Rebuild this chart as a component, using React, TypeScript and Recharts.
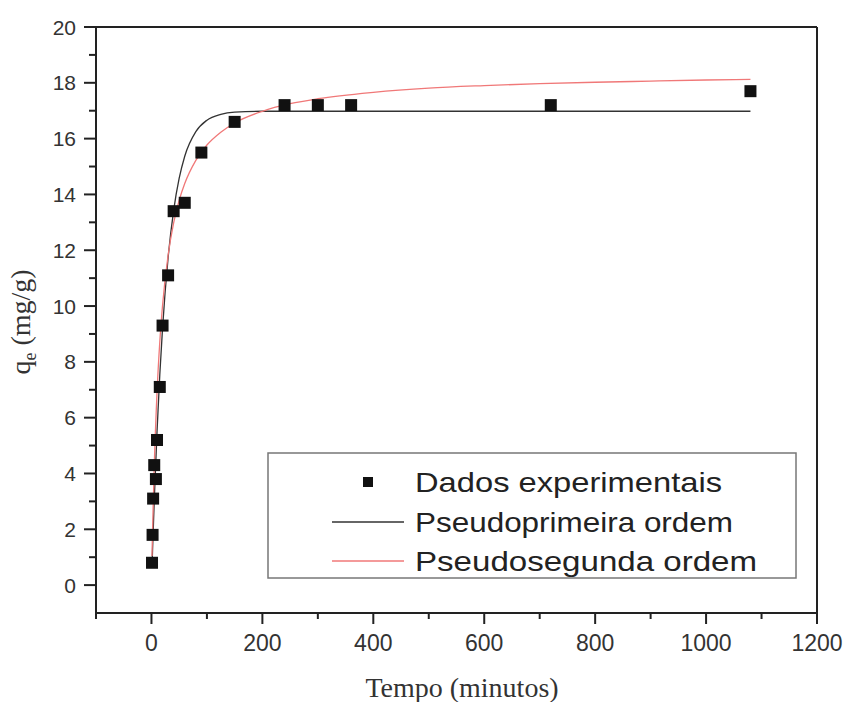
import React from 'react';
import { ComposedChart, Line, Scatter, XAxis, YAxis, ReferenceLine } from 'recharts';

// experimental points (time in minutes, q in mg/g)
const expTimes = [1, 2, 3, 5, 8, 10, 15, 20, 30, 40, 60, 90, 150, 240, 300, 360, 720, 1080];
const expQ = [0.8, 1.8, 3.1, 4.3, 3.8, 5.2, 7.1, 9.3, 11.1, 13.4, 13.7, 15.5, 16.6, 17.2, 17.2, 17.2, 17.2, 17.7];

// fitted curves
const fitTimes = [1, 2, 5, 10, 15, 20, 30, 40, 50, 60, 80, 100, 125, 150, 200, 250, 300, 400, 500, 600, 700, 800, 900, 1000, 1080];
const firstOrderQ = [0.65, 1.28, 3.01, 5.49, 7.53, 9.21, 11.73, 13.43, 14.58, 15.37, 16.25, 16.66, 16.87, 16.95, 16.98, 16.98, 16.98, 16.98, 16.98, 16.98, 16.98, 16.98, 16.98, 16.98, 16.98];
const secondOrderQ = [1.04, 1.97, 4.24, 6.89, 8.71, 10.03, 11.82, 12.98, 13.79, 14.39, 15.22, 15.77, 16.23, 16.56, 16.98, 17.25, 17.43, 17.66, 17.81, 17.9, 17.97, 18.02, 18.06, 18.1, 18.12];

const xTicks = [-100, 0, 100, 200, 300, 400, 500, 600, 700, 800, 900, 1000, 1100, 1200];
const yTicks = [0, 1, 2, 3, 4, 5, 6, 7, 8, 9, 10, 11, 12, 13, 14, 15, 16, 17, 18, 19, 20];
const legendLabels = ['Dados experimentais', 'Pseudoprimeira ordem', 'Pseudosegunda ordem'];

const expData = expTimes.map((t, i) => ({ t, q: expQ[i] }));
const firstData = fitTimes.map((t, i) => ({ t, q: firstOrderQ[i] }));
const secondData = fitTimes.map((t, i) => ({ t, q: secondOrderQ[i] }));

const AXIS = '#222';
const RED = '#f07878';
const SANS = '"Liberation Sans", Arial, sans-serif';
const SERIF = '"Liberation Serif", "Times New Roman", serif';

const XTick = (props: any) => {
  const { x, y, payload } = props;
  const v = payload.value;
  const major = v % 200 === 0;
  return (
    <g>
      <line x1={x} x2={x} y1={y} y2={y + (major ? 11 : 6)} stroke={AXIS} strokeWidth={2} />
      {major && (
        <text x={x} y={y + 30} textAnchor="middle" dominantBaseline="central"
          fontFamily={SANS} fontSize={23} fill="#333">{v}</text>
      )}
    </g>
  );
};

const YTick = (props: any) => {
  const { x, y, payload } = props;
  const v = payload.value;
  const major = v % 2 === 0;
  return (
    <g>
      <line x1={x - (major ? 12 : 7)} x2={x} y1={y} y2={y} stroke={AXIS} strokeWidth={2} />
      {major && (
        <text x={x - 20} y={y} textAnchor="end" dominantBaseline="central"
          fontFamily={SANS} fontSize={21} fill="#333">{v}</text>
      )}
    </g>
  );
};

const Square = (props: any) => (
  <rect x={props.cx - 6} y={props.cy - 6} width={12} height={12} fill="#111" />
);

const xTitle = () => (
  <text x={462} y={687} textAnchor="middle" dominantBaseline="central"
    fontFamily={SERIF} fontSize={28} fill="#333">Tempo (minutos)</text>
);

const yTitle = () => (
  <text transform="translate(30,322) rotate(-90)" textAnchor="middle"
    fontFamily={SERIF} fontSize={28} fill="#333">
    q<tspan fontSize={18} dy={6}>e</tspan><tspan dy={-6}> (mg/g)</tspan>
  </text>
);

function LegendBox() {
  const rows = [482, 522, 561];
  const ends = [722, 733, 757];
  return (
    <svg width={847} height={702} style={{ position: 'absolute', left: 0, top: 0, pointerEvents: 'none' }}>
      <rect x={268} y={453} width={528} height={125} fill="#fff" stroke="#777" strokeWidth={1.5} />
      <rect x={363} y={rows[0] - 5} width={10} height={10} fill="#111" />
      <line x1={332} x2={404} y1={rows[1]} y2={rows[1]} stroke="#333" strokeWidth={1.3} />
      <line x1={332} x2={404} y1={rows[2]} y2={rows[2]} stroke={RED} strokeWidth={1.3} />
      {legendLabels.map((label, i) => (
        <text key={label} x={415} y={rows[i]} dominantBaseline="central" fontFamily={SANS}
          fontSize={28} fill="#222" textLength={ends[i] - 415} lengthAdjust="spacingAndGlyphs">
          {label}
        </text>
      ))}
    </svg>
  );
}

export default function App() {
  return (
    <div style={{ position: 'absolute', left: 0, top: 0, width: 847, height: 702, background: '#fff' }}>
      <ComposedChart width={847} height={702} margin={{ top: 27, right: 30, left: 0, bottom: 0 }}>
        <XAxis
          type="number"
          dataKey="t"
          domain={[-100, 1200]}
          ticks={xTicks}
          interval={0}
          allowDataOverflow
          height={89}
          tickSize={0}
          tickMargin={0}
          tickLine={false}
          tick={<XTick />}
          axisLine={{ stroke: AXIS, strokeWidth: 2 }}
          label={{ content: xTitle }}
        />
        <YAxis
          type="number"
          dataKey="q"
          domain={[-1, 20]}
          ticks={yTicks}
          interval={0}
          allowDataOverflow
          width={96}
          tickSize={0}
          tickMargin={0}
          tickLine={false}
          tick={<YTick />}
          axisLine={{ stroke: AXIS, strokeWidth: 2 }}
          label={{ content: yTitle }}
        />
        <ReferenceLine y={20} stroke={AXIS} strokeWidth={2} />
        <ReferenceLine x={1200} stroke={AXIS} strokeWidth={2} />
        <Line data={firstData} dataKey="q" type="monotone" stroke="#333" strokeWidth={1.3}
          dot={false} isAnimationActive={false} />
        <Line data={secondData} dataKey="q" type="monotone" stroke={RED} strokeWidth={1.3}
          dot={false} isAnimationActive={false} />
        <Scatter data={expData} dataKey="q" shape={<Square />} isAnimationActive={false} />
      </ComposedChart>
      <LegendBox />
    </div>
  );
}
